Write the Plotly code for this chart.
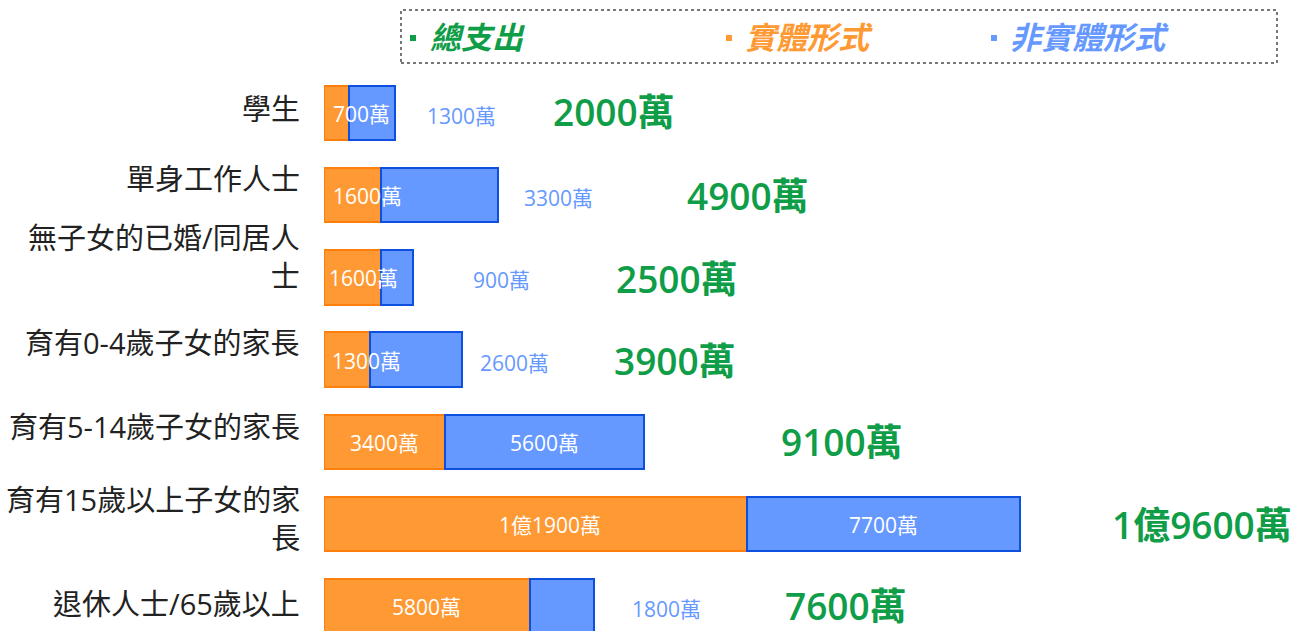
import plotly.graph_objects as go

# ---------------- data ----------------
categories = ["學生", "單身工作人士", "無子女的已婚/同居人<br>士", "育有0-4歲子女的家長",
              "育有5-14歲子女的家長", "育有15歲以上子女的家<br>長", "退休人士/65歲以上"]
physical = [700, 1600, 1600, 1300, 3400, 11900, 5800]        # 實體形式 (萬)
non_physical = [1300, 3300, 900, 2600, 5600, 7700, 1800]     # 非實體形式 (萬)
total = [2000, 4900, 2500, 3900, 9100, 19600, 7600]          # 總支出 (萬)
legend_names = ["總支出", "實體形式", "非實體形式"]

# ---------------- styles / layout ----------------
GREEN, ORANGE, BLUE = "#0f9d48", "#ff9933", "#6699ff"
ORANGE_LINE, BLUE_LINE = "#ff7f0e", "#0d50e0"
FONT = "Open Sans, Noto Sans CJK TC"
W, H = 1301, 631
L, R, T, B = 324, 0, 72, 0
PX_PER_UNIT = 696 / 19600
ROW_PX = 82.2
X_MAX = (W - L - R) / PX_PER_UNIT
Y_TOP = -(113 - T) / ROW_PX
Y_BOT = (H - B - 113) / ROW_PX

# label placement tweaks (pixels)
cat_yshift = [5, 17, 21, 17, 15, 6, 3]
total_xshift = [156, 187, 201, 150, 132, 90, 189]
total_yshift = [2, 0, -1, -1, 0, 0, 1]
nonphys_outside_xshift = [30, 24, 58, 16, None, None, 36]
phys_left_xshift = [7, 7, 3, 6, None, None, None]
phys_center_xshift = [None, None, None, None, 0, 15, 0]


def fmt(v):
    if v >= 10000:
        return f"{v // 10000}億{v % 10000}萬"
    return f"{v}萬"


def px_x(p):
    return (p - L) / (W - L - R)


def px_y(p):
    return (H - B - p) / (H - T - B)


ys = list(range(len(categories)))

fig = go.Figure()
fig.add_trace(go.Bar(y=ys, x=physical, orientation="h", name=legend_names[1],
                     marker=dict(color=ORANGE, line=dict(color=ORANGE_LINE, width=2)),
                     width=0.66, hoverinfo="skip"))
fig.add_trace(go.Bar(y=ys, x=non_physical, orientation="h", name=legend_names[2],
                     marker=dict(color=BLUE, line=dict(color=BLUE_LINE, width=2)),
                     width=0.66, hoverinfo="skip"))

ann = []
for i, cat in enumerate(categories):
    # category labels
    ann.append(dict(x=0, y=i, xref="x", yref="y", text=cat, showarrow=False,
                    xanchor="right", yanchor="middle", xshift=-22, yshift=cat_yshift[i],
                    align="right", font=dict(family=FONT, size=29, color="#222222")))
    # physical labels
    if phys_left_xshift[i] is not None:
        ann.append(dict(x=0, y=i, xref="x", yref="y", text=fmt(physical[i]), showarrow=False,
                        xanchor="left", yanchor="middle", xshift=phys_left_xshift[i], yshift=-1,
                        font=dict(family=FONT, size=21, color="white")))
    else:
        ann.append(dict(x=physical[i] / 2, y=i, xref="x", yref="y", text=fmt(physical[i]),
                        showarrow=False, xanchor="center", yanchor="middle",
                        xshift=phys_center_xshift[i], yshift=-1,
                        font=dict(family=FONT, size=21, color="white")))
    # non-physical labels
    end = physical[i] + non_physical[i]
    if nonphys_outside_xshift[i] is not None:
        ann.append(dict(x=end, y=i, xref="x", yref="y", text=fmt(non_physical[i]), showarrow=False,
                        xanchor="left", yanchor="middle", xshift=nonphys_outside_xshift[i], yshift=-3,
                        font=dict(family=FONT, size=21, color=BLUE)))
    else:
        ann.append(dict(x=physical[i] + non_physical[i] / 2, y=i, xref="x", yref="y",
                        text=fmt(non_physical[i]), showarrow=False, xanchor="center",
                        yanchor="middle", yshift=-1,
                        font=dict(family=FONT, size=21, color="white")))
    # totals
    ann.append(dict(x=total[i], y=i, xref="x", yref="y", text=fmt(total[i]), showarrow=False,
                    xanchor="left", yanchor="middle", xshift=total_xshift[i],
                    yshift=total_yshift[i],
                    font=dict(family=FONT, size=37, color=GREEN, weight=600)))

# legend (manual)
shapes = [dict(type="rect", xref="paper", yref="paper", x0=px_x(401), x1=px_x(1277),
               y0=px_y(63), y1=px_y(10), line=dict(color="#777777", width=2, dash="dot"),
               fillcolor="rgba(0,0,0,0)")]
leg_sq_x = [410, 726, 991]
leg_tx_x = [428, 743, 1008]
for name, col, sx, tx in zip(legend_names, [GREEN, ORANGE, BLUE], leg_sq_x, leg_tx_x):
    shapes.append(dict(type="rect", xref="paper", yref="paper", x0=px_x(sx), x1=px_x(sx + 6),
                       y0=px_y(41), y1=px_y(35), line=dict(width=0), fillcolor=col))
    ann.append(dict(x=px_x(tx), y=px_y(37), xref="paper", yref="paper", text=name,
                    showarrow=False, xanchor="left", yanchor="middle",
                    font=dict(family=FONT, size=31, color=col, weight="bold", style="italic")))

fig.update_layout(
    width=W, height=H, barmode="stack", showlegend=False,
    margin=dict(l=L, r=R, t=T, b=B, pad=0),
    paper_bgcolor="white", plot_bgcolor="white",
    xaxis=dict(range=[0, X_MAX], visible=False, fixedrange=True),
    yaxis=dict(range=[Y_BOT, Y_TOP], visible=False, fixedrange=True),
    annotations=ann, shapes=shapes,
)

fig.write_html(
    "out.html",
    config={"displayModeBar": False},
    post_script="document.body.style.margin='0';document.body.style.overflow='hidden';",
)
